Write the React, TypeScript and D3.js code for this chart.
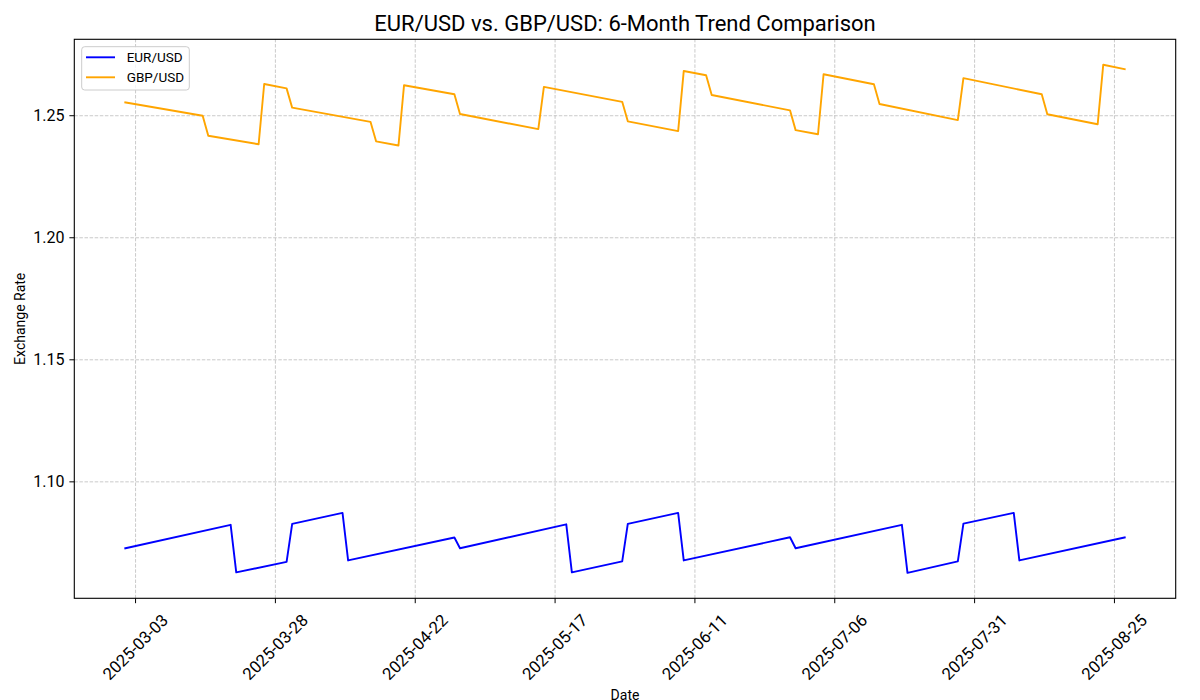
import React from 'react';
import * as d3 from 'd3';

// vertices of each series (dates where the slope changes)
const eurDates = [
  '2025-03-01', '2025-03-20', '2025-03-21', '2025-03-30', '2025-03-31', '2025-04-09',
  '2025-04-10', '2025-04-29', '2025-04-30', '2025-05-19', '2025-05-20', '2025-05-29',
  '2025-05-30', '2025-06-08', '2025-06-09', '2025-06-28', '2025-06-29', '2025-07-18',
  '2025-07-19', '2025-07-28', '2025-07-29', '2025-08-07', '2025-08-08', '2025-08-27',
];
const eurValues = [
  1.0727, 1.0824, 1.0629, 1.0672, 1.0828, 1.0873,
  1.0678, 1.0772, 1.0728, 1.0826, 1.0629, 1.0674,
  1.0828, 1.0873, 1.0678, 1.0773, 1.0728, 1.0824,
  1.0627, 1.0674, 1.0829, 1.0873, 1.0678, 1.0773,
];

const gbpDates = [
  '2025-03-01', '2025-03-15', '2025-03-16', '2025-03-25', '2025-03-26', '2025-03-30',
  '2025-03-31', '2025-04-14', '2025-04-15', '2025-04-19', '2025-04-20', '2025-04-29',
  '2025-04-30', '2025-05-14', '2025-05-15', '2025-05-29', '2025-05-30', '2025-06-08',
  '2025-06-09', '2025-06-13', '2025-06-14', '2025-06-28', '2025-06-29', '2025-07-03',
  '2025-07-04', '2025-07-13', '2025-07-14', '2025-07-28', '2025-07-29', '2025-08-12',
  '2025-08-13', '2025-08-22', '2025-08-23', '2025-08-27',
];
const gbpValues = [
  1.2555, 1.2500, 1.2418, 1.2383, 1.2630, 1.2612,
  1.2533, 1.2475, 1.2395, 1.2378, 1.2625, 1.2588,
  1.2507, 1.2445, 1.2618, 1.2557, 1.2477, 1.2437,
  1.2683, 1.2666, 1.2585, 1.2522, 1.2441, 1.2424,
  1.2670, 1.2629, 1.2548, 1.2482, 1.2654, 1.2588,
  1.2506, 1.2465, 1.2709, 1.2690,
];

const xTickLabels = [
  '2025-03-03', '2025-03-28', '2025-04-22', '2025-05-17',
  '2025-06-11', '2025-07-06', '2025-07-31', '2025-08-25',
];
const yTickValues = [1.10, 1.15, 1.20, 1.25];

const seriesNames = ['EUR/USD', 'GBP/USD'];
const seriesColors = ['blue', 'orange'];

const width = 1200;
const height = 700;
const margin = { top: 39.3, right: 24.3, bottom: 101.7, left: 74.3 };
const font = 'Roboto, "Open Sans", sans-serif';

const parse = d3.utcParse('%Y-%m-%d');

type Pt = { date: Date; value: number };

const toPoints = (dates: string[], values: number[]): Pt[] =>
  dates.map((d, i) => ({ date: parse(d)!, value: values[i] }));

const pad = ([a, b]: [number, number]) => {
  const m = (b - a) * 0.05;
  return [a - m, b + m];
};

const App: React.FC = () => {
  const series = [toPoints(eurDates, eurValues), toPoints(gbpDates, gbpValues)];
  const all = series.flat();

  const tExtent = d3.extent(all, d => +d.date) as [number, number];
  const vExtent = d3.extent(all, d => d.value) as [number, number];

  const x = d3.scaleUtc()
    .domain(pad(tExtent))
    .range([margin.left, width - margin.right]);

  const y = d3.scaleLinear()
    .domain(pad(vExtent))
    .range([height - margin.bottom, margin.top]);

  const line = d3.line<Pt>()
    .x(d => x(d.date))
    .y(d => y(d.value));

  const x0 = margin.left;
  const x1 = width - margin.right;
  const y0 = height - margin.bottom;
  const y1 = margin.top;

  const xTicks = xTickLabels.map(s => ({ label: s, pos: x(parse(s)!) }));

  return (
    <svg
      width={width}
      height={height}
      viewBox={`0 0 ${width} ${height}`}
      style={{ position: 'absolute', left: 0, top: 0, background: 'white' }}
      fontFamily={font}
    >
      <rect x={0} y={0} width={width} height={height} fill="white" />

      {/* grid */}
      <g stroke="#b0b0b0" strokeOpacity={0.75} strokeWidth={0.9} strokeDasharray="3.5,1.6">
        {xTicks.map(t => (
          <line key={t.label} x1={t.pos} x2={t.pos} y1={y0} y2={y1} />
        ))}
        {yTickValues.map(v => (
          <line key={v} x1={x0} x2={x1} y1={y(v)} y2={y(v)} />
        ))}
      </g>

      {/* lines */}
      {series.map((s, i) => (
        <path
          key={seriesNames[i]}
          d={line(s) ?? ''}
          fill="none"
          stroke={seriesColors[i]}
          strokeWidth={1.9}
          strokeLinejoin="round"
        />
      ))}

      {/* spines */}
      <rect x={x0} y={y1} width={x1 - x0} height={y0 - y1} fill="none" stroke="black" strokeWidth={1.1} />

      {/* x axis */}
      <g>
        {xTicks.map(t => (
          <g key={t.label}>
            <line x1={t.pos} x2={t.pos} y1={y0} y2={y0 + 4.9} stroke="black" strokeWidth={1} />
            <text
              transform={`translate(${t.pos},${y0 + 49}) rotate(-45)`}
              textAnchor="middle"
              dominantBaseline="central"
              fontSize={16.7}
              fill="black"
            >
              {t.label}
            </text>
          </g>
        ))}
      </g>

      {/* y axis */}
      <g>
        {yTickValues.map(v => (
          <g key={v}>
            <line x1={x0 - 4.9} x2={x0} y1={y(v)} y2={y(v)} stroke="black" strokeWidth={1} />
            <text
              x={x0 - 9.8}
              y={y(v)}
              textAnchor="end"
              dominantBaseline="central"
              fontSize={16}
              fill="black"
            >
              {v.toFixed(2)}
            </text>
          </g>
        ))}
      </g>

      {/* labels */}
      <text x={(x0 + x1) / 2} y={31} textAnchor="middle" fontSize={22} fill="black">
        EUR/USD vs. GBP/USD: 6-Month Trend Comparison
      </text>
      <text x={(x0 + x1) / 2} y={700} textAnchor="middle" fontSize={14} fill="black">
        Date
      </text>
      <text
        transform={`translate(20,${(y0 + y1) / 2}) rotate(-90)`}
        textAnchor="middle"
        dominantBaseline="central"
        fontSize={14}
        fill="black"
      >
        Exchange Rate
      </text>

      {/* legend */}
      <g>
        <rect
          x={81.7}
          y={46.7}
          width={107.6}
          height={43.3}
          rx={3}
          fill="white"
          fillOpacity={0.8}
          stroke="#cccccc"
          strokeWidth={1}
        />
        {seriesNames.map((name, i) => (
          <g key={name} transform={`translate(0,${57.3 + i * 20})`}>
            <line x1={86} x2={115} y1={0} y2={0} stroke={seriesColors[i]} strokeWidth={1.9} />
            <text x={126.7} y={0} dominantBaseline="central" fontSize={13.5} fill="black">
              {name}
            </text>
          </g>
        ))}
      </g>
    </svg>
  );
};

export default App;
